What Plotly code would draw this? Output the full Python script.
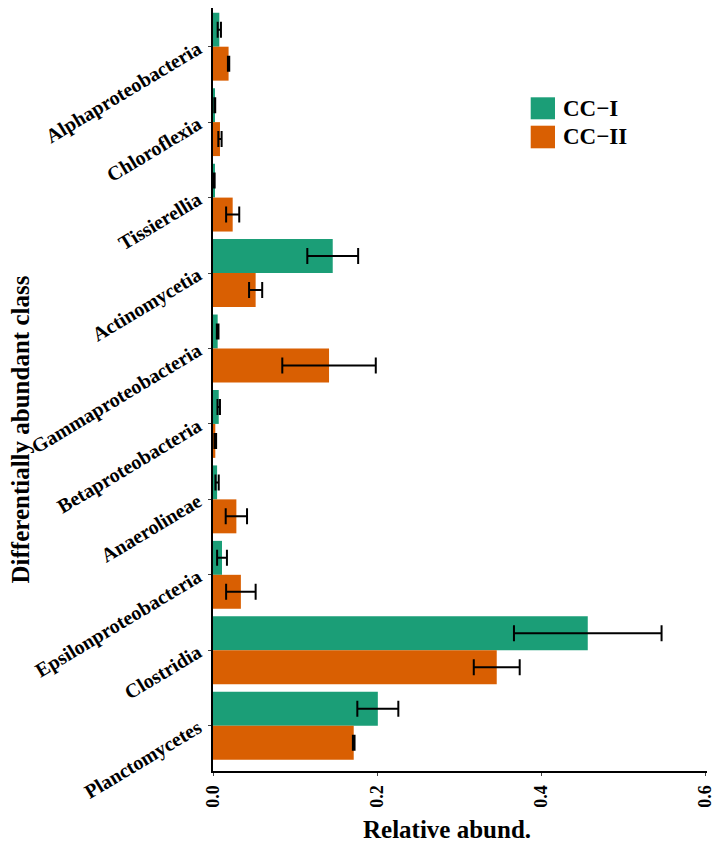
import plotly.graph_objects as go

classes = ["Alphaproteobacteria", "Chloroflexia", "Tissierellia", "Actinomycetia",
           "Gammaproteobacteria", "Betaproteobacteria", "Anaerolineae",
           "Epsilonproteobacteria", "Clostridia", "Planctomycetes"]
cc1 = [0.0077, 0.0022, 0.0015, 0.146, 0.0057, 0.0070, 0.0050, 0.011, 0.457, 0.201]
cc1_err = [0.002, 0.0005, 0.0005, 0.031, 0.001, 0.0015, 0.002, 0.006, 0.090, 0.025]
cc2 = [0.019, 0.0085, 0.024, 0.052, 0.1415, 0.0028, 0.0285, 0.034, 0.346, 0.1716]
cc2_err = [0.0008, 0.002, 0.008, 0.008, 0.057, 0.001, 0.013, 0.018, 0.028, 0.001]
series_names = ["CC\u2212I", "CC\u2212II"]
colors = ["#1B9E77", "#D95F02"]
x_ticks = [0.0, 0.2, 0.4, 0.6]

FONT = "Liberation Serif"

fig = go.Figure()
for name, vals, errs, col in [(series_names[0], cc1, cc1_err, colors[0]),
                              (series_names[1], cc2, cc2_err, colors[1])]:
    fig.add_trace(go.Bar(
        y=classes, x=vals, name=name, orientation="h",
        marker=dict(color=col, line=dict(width=0)),
        error_x=dict(type="data", array=errs, visible=True,
                     color="black", thickness=2, width=8),
        showlegend=False,
    ))

# page has an 8px body margin; figure sized to fit the 720x848 window
OFF = 8
W, H = 720 - OFF, 848 - OFF
# target plot area in page pixels
PL, PR, PT, PB = 213, 707, OFF, 771
ml, mr, mt, mb = PL - OFF, W - (PR - OFF), 0, H - (PB - OFF)
pw = PR - PL
ph = PB - PT

def px2paper(px, py):
    return (px - PL) / pw, (PB - py) / ph

# category scale: first tick at page y 46.7, last at 725.7
unit = (725.7 - 46.7) / 9
y_top = -(46.7 - PT) / unit
y_bot = 9 + (PB - 725.7) / unit

shapes = []
annotations = []
legend_boxes = [(530.7, 555.0, 97.3, 119.3), (530.7, 555.0, 125.7, 148.3)]
for (x0, x1, y0, y1), col, name in zip(legend_boxes, colors, series_names):
    px0, py0 = px2paper(x0, y1)
    px1, py1 = px2paper(x1, y0)
    shapes.append(dict(type="rect", xref="paper", yref="paper",
                       x0=px0, x1=px1, y0=py0, y1=py1,
                       fillcolor=col, line=dict(width=0)))
    tx, ty = px2paper(561, (y0 + y1) / 2)
    annotations.append(dict(xref="paper", yref="paper", x=tx, y=ty,
                            xanchor="left", yanchor="middle", showarrow=False,
                            text=name,
                            font=dict(family=FONT, size=23, color="black", weight="bold")))

ax_x, ax_y = px2paper(447, 829)
annotations.append(dict(xref="paper", yref="paper", x=ax_x, y=ax_y,
                        xanchor="center", yanchor="middle", showarrow=False,
                        text="Relative abund.",
                        font=dict(family=FONT, size=25, color="black", weight="bold")))
ay_x, ay_y = px2paper(19.5, 430)
annotations.append(dict(xref="paper", yref="paper", x=ay_x, y=ay_y,
                        xanchor="center", yanchor="middle", showarrow=False,
                        textangle=-90,
                        text="Differentially abundant class",
                        font=dict(family=FONT, size=25, color="black", weight="bold")))

fig.update_layout(
    width=W, height=H,
    margin=dict(l=ml, r=mr, t=mt, b=mb, autoexpand=False),
    paper_bgcolor="white", plot_bgcolor="white",
    barmode="group", bargap=0.1, bargroupgap=0,
    shapes=shapes, annotations=annotations,
    showlegend=False,
    xaxis=dict(range=[0, 0.6024], tickvals=x_ticks,
               ticktext=[f"{v:.1f}" for v in x_ticks],
               tickangle=-90, showgrid=False, zeroline=False, automargin=False,
               showline=True, linecolor="black", linewidth=2,
               ticks="outside", ticklen=3, tickcolor="#444", tickwidth=1,
               ticklabelstandoff=2,
               tickfont=dict(family=FONT, size=18, color="black", weight="bold")),
    yaxis=dict(categoryorder="array", categoryarray=classes,
               range=[y_bot, y_top],
               tickangle=-31, showgrid=False, zeroline=False, automargin=False,
               showline=True, linecolor="black", linewidth=2,
               ticks="outside", ticklen=3, tickcolor="#444", tickwidth=1,
               ticklabelstandoff=6,
               tickfont=dict(family=FONT, size=20, color="black", weight="bold")),
)

fig.write_html("out.html")
